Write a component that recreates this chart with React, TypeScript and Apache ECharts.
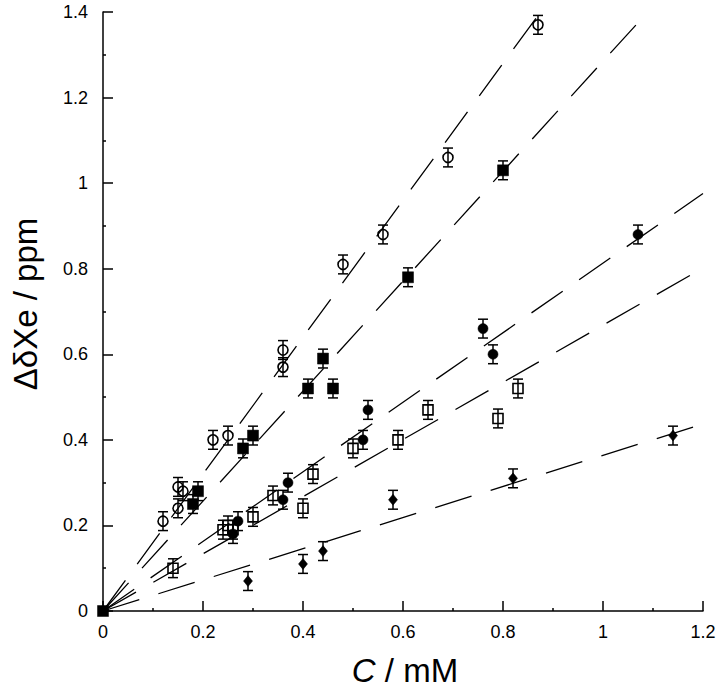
import React, { useEffect, useRef } from "react";
import * as echarts from "echarts";

// Data
const openCircles: number[][] = [
  [0.12, 0.21], [0.15, 0.24], [0.15, 0.29], [0.16, 0.28], [0.22, 0.40], [0.25, 0.41],
  [0.36, 0.57], [0.36, 0.61], [0.48, 0.81], [0.56, 0.88], [0.69, 1.06], [0.87, 1.37],
];
const filledSquares: number[][] = [
  [0, 0], [0.18, 0.25], [0.19, 0.28], [0.28, 0.38], [0.30, 0.41], [0.41, 0.52],
  [0.44, 0.59], [0.46, 0.52], [0.61, 0.78], [0.80, 1.03],
];
const filledCircles: number[][] = [
  [0.26, 0.18], [0.27, 0.21], [0.36, 0.26], [0.37, 0.30], [0.52, 0.40], [0.53, 0.47],
  [0.76, 0.66], [0.78, 0.60], [1.07, 0.88],
];
const openSquares: number[][] = [
  [0.14, 0.10], [0.24, 0.19], [0.25, 0.20], [0.26, 0.19], [0.30, 0.22], [0.34, 0.27],
  [0.40, 0.24], [0.42, 0.32], [0.50, 0.38], [0.59, 0.40], [0.65, 0.47], [0.79, 0.45],
  [0.83, 0.52],
];
const filledDiamonds: number[][] = [
  [0.29, 0.07], [0.40, 0.11], [0.44, 0.14], [0.58, 0.26], [0.82, 0.31], [1.14, 0.41],
];
// fitted slopes (ppm / mM) for each set, same order as above
const fitSlopes = [1.6, 1.285, 0.813, 0.668, 0.364];
// error bar half-height (ppm)
const errorHalf = 0.022;
const xTicks = { min: 0, max: 1.2, interval: 0.2 };
const yTicks = { min: 0, max: 1.4, interval: 0.2 };

const FONT = "'Liberation Sans', Arial, Helvetica, sans-serif";

export default function App() {
  const ref = useRef<HTMLDivElement>(null);
  useEffect(() => {
    if (!ref.current) return;
    const chart = echarts.init(ref.current, null, { renderer: "svg" });

    const sets = [
      { data: openCircles, symbol: "circle", size: 10, filled: false },
      { data: filledSquares, symbol: "rect", size: 11, filled: true },
      { data: filledCircles, symbol: "circle", size: 10, filled: true },
      { data: openSquares, symbol: "rect", size: 10, filled: false },
      { data: filledDiamonds, symbol: "diamond", size: 10, filled: true },
    ];

    const series: any[] = [];
    fitSlopes.forEach((s) => {
      series.push({
        type: "line",
        data: [[0, 0], [xTicks.max, s * xTicks.max]],
        showSymbol: false,
        symbol: "none",
        clip: true,
        z: 1,
        lineStyle: { color: "#000", width: 1.3, type: [38, 20] },
        silent: true,
      });
    });
    sets.forEach((st) => {
      series.push({
        type: "custom",
        clip: true,
        z: 2,
        data: st.data.filter((d) => d[1] !== 0).map((d) => [d[0], d[1], errorHalf]),
        renderItem: (params: any, api: any) => {
          const x = api.value(0);
          const y = api.value(1);
          const e = api.value(2);
          const top = api.coord([x, y + e]);
          const bot = api.coord([x, y - e]);
          const cw = 5;
          const style = { stroke: "#000", lineWidth: 1.5 };
          return {
            type: "group",
            children: [
              { type: "line", shape: { x1: top[0], y1: top[1], x2: bot[0], y2: bot[1] }, style },
              { type: "line", shape: { x1: top[0] - cw, y1: top[1], x2: top[0] + cw, y2: top[1] }, style },
              { type: "line", shape: { x1: bot[0] - cw, y1: bot[1], x2: bot[0] + cw, y2: bot[1] }, style },
            ],
          };
        },
      });
      series.push({
        type: "scatter",
        data: st.data,
        symbol: st.symbol,
        symbolSize: st.symbol === "diamond" ? [9, 11] : st.size,
        z: 3,
        itemStyle: st.filled
          ? { color: "#000", borderColor: "#000", borderWidth: 0.5, opacity: 1 }
          : { color: "rgba(0,0,0,0)", borderColor: "#000", borderWidth: 1.6, opacity: 1 },
      });
    });

    const axisCommon = {
      type: "value",
      splitLine: { show: false },
      axisLine: { show: true, onZero: false, lineStyle: { color: "#000", width: 1.5 } },
      axisTick: { show: true, inside: true, length: 10, lineStyle: { color: "#000", width: 1.5 } },
      minorTick: { show: true, splitNumber: 2, length: 3, lineStyle: { color: "#000", width: 1.5 } },
      minorSplitLine: { show: false },
    };

    chart.setOption({
      animation: false,
      backgroundColor: "#fff",
      textStyle: { fontFamily: FONT },
      grid: { left: 103, right: 17, top: 12, bottom: 79, containLabel: false, outerBoundsMode: "none" },
      xAxis: {
        ...axisCommon,
        min: xTicks.min,
        max: xTicks.max,
        interval: xTicks.interval,
        axisLabel: { color: "#000", fontSize: 18, fontFamily: FONT, margin: 12 },
      },
      yAxis: {
        ...axisCommon,
        min: yTicks.min,
        max: yTicks.max,
        interval: yTicks.interval,
        axisLabel: { color: "#000", fontSize: 18, fontFamily: FONT, margin: 15 },
      },
      graphic: [
        {
          type: "text",
          x: 405,
          y: 670,
          style: {
            text: "{i|C} / mM",
            fill: "#000",
            font: `33px ${FONT}`,
            textAlign: "center",
            textVerticalAlign: "middle",
            rich: { i: { fontStyle: "italic", fontSize: 33, fontFamily: FONT } },
          },
        },
        {
          type: "text",
          x: 25,
          y: 304,
          rotation: Math.PI / 2,
          style: {
            text: "ΔδXe / ppm",
            fill: "#000",
            font: `33px ${FONT}`,
            textAlign: "center",
            textVerticalAlign: "middle",
          },
        },
      ],
      series,
    });
    return () => chart.dispose();
  }, []);
  return (
    <div
      ref={ref}
      style={{ position: "absolute", left: 0, top: 0, width: 720, height: 690 }}
    />
  );
}
